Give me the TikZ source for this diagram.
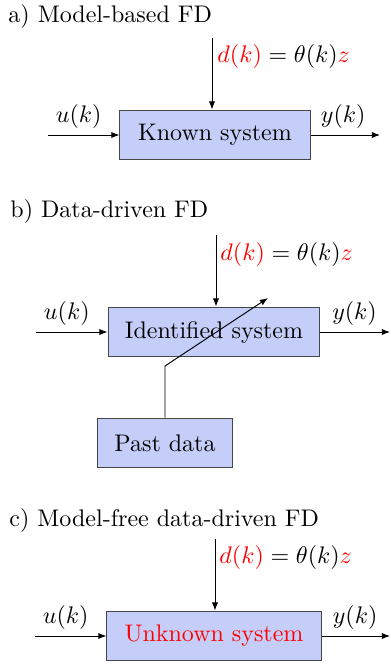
\documentclass[tikz,border=0pt]{standalone}
\usetikzlibrary{arrows.meta}
\definecolor{sysblue}{RGB}{196,206,248}
\definecolor{sysedge}{RGB}{70,70,70}

\begin{document}
\begin{tikzpicture}[x=0.41667pt,y=-0.41667pt,
sysbox/.style={draw=sysedge,fill=sysblue,minimum height=20.8pt,inner sep=0pt},
sig/.style={-{Latex[length=3.4pt,width=2.6pt]}},
paneltitle/.style={anchor=base west,inner sep=0pt},
lbl/.style={above,inner sep=2.4pt},
dist/.style={anchor=west,inner sep=0pt}]
\useasboundingbox (0,0) rectangle (391,668);

% a) model-based
\node[paneltitle] (titleA) at (8,22) {a) Model-based FD};
\node[sysbox,minimum width=79.2pt] (sysA) at (215,135) {Known system};
\coordinate (dinA) at (212,38);
\coordinate (uA) at (48,135);
\coordinate (yA) at (380,135);
\draw[sig] (dinA) -- (dinA |- sysA.north);
\node[dist] (dA) at (217,56) {${\color{red}d(k)} = \theta(k){\color{red}z}$};
\draw[sig] (uA) -- node[lbl,pos=0.43] {$u(k)$} (sysA.west);
\draw[sig] (sysA.east) -- node[lbl,pos=0.47] {$y(k)$} (yA);

% b) data-driven
\node[paneltitle] (titleB) at (10,217) {b) Data-driven FD};
\node[sysbox,minimum width=88.3pt] (sysB) at (214,332) {Identified system};
\node[sysbox,minimum width=56.2pt] (past) at (165,443) {Past data};
\coordinate (dinB) at (216,235);
\coordinate (uB) at (36,332);
\coordinate (yB) at (390,332);
\coordinate (bend) at (165,366);
\coordinate (tip) at (268,298);
\draw[sig] (dinB) -- (dinB |- sysB.north);
\node[dist] (dB) at (220,254) {${\color{red}d(k)} = \theta(k){\color{red}z}$};
\draw[sig] (uB) -- node[lbl,pos=0.43] {$u(k)$} (sysB.west);
\draw[sig] (sysB.east) -- node[lbl,pos=0.49] {$y(k)$} (yB);
\draw[sig] (past.north) -- (bend) -- (tip);

% c) model-free
\node[paneltitle] (titleC) at (9,526) {c) Model-free data-driven FD};
\node[sysbox,minimum width=89.2pt] (sysC) at (214,636) {\color{red}Unknown system};
\coordinate (dinC) at (215,539);
\coordinate (uC) at (35,636);
\coordinate (yC) at (390,636);
\draw[sig] (dinC) -- (dinC |- sysC.north);
\node[dist] (dC) at (219,557) {${\color{red}d(k)} = \theta(k){\color{red}z}$};
\draw[sig] (uC) -- node[lbl,pos=0.43] {$u(k)$} (sysC.west);
\draw[sig] (sysC.east) -- node[lbl,pos=0.49] {$y(k)$} (yC);
\end{tikzpicture}
\end{document}
